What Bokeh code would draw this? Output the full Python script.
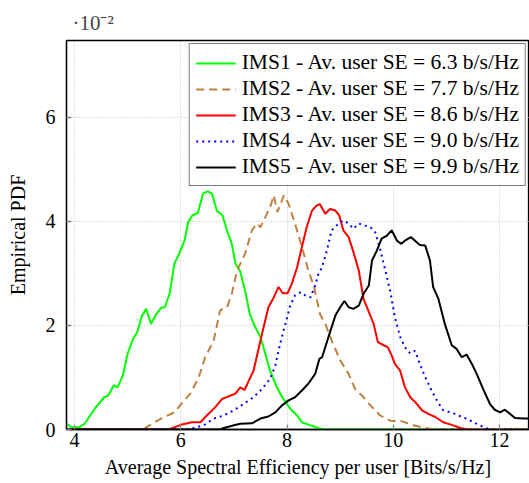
from bokeh.plotting import figure
from bokeh.models import Range1d, FixedTicker, Legend
from bokeh.embed import file_html
from bokeh.resources import INLINE

# ---- data (PDF values in units of 1e-2) ----
ims1_x = [3.85, 3.94, 4.09, 4.19, 4.38, 4.56, 4.63, 4.74, 4.81, 4.91, 5.0, 5.10, 5.18, 5.27, 5.35, 5.44,
          5.54, 5.63, 5.70, 5.79, 5.88, 5.97, 6.07, 6.14, 6.22, 6.32, 6.42, 6.51, 6.59, 6.68, 6.78, 6.87,
          6.96, 7.03, 7.12, 7.21, 7.30, 7.40, 7.50, 7.59, 7.68, 7.78, 7.87, 7.97, 8.06, 8.19, 8.28, 8.44,
          8.59, 8.70, 12.6]
ims1_y = [0.11, 0.045, 0.045, 0.11, 0.40, 0.62, 0.65, 0.85, 0.81, 1.04, 1.46, 1.74, 1.87, 2.19, 2.32, 2.03,
          2.22, 2.34, 2.35, 2.61, 3.19, 3.38, 3.63, 3.99, 4.12, 4.16, 4.54, 4.58, 4.53, 4.20, 4.13, 3.83,
          3.57, 3.19, 3.04, 2.67, 2.22, 1.97, 1.78, 1.46, 1.13, 0.88, 0.69, 0.53, 0.40, 0.27, 0.14, 0.08,
          0.03, 0.0, 0.0]

ims2_x = [3.85, 5.30, 5.38, 5.63, 5.88, 6.04, 6.18, 6.34, 6.46, 6.62, 6.74, 6.87, 6.96, 7.06, 7.21, 7.34,
          7.43, 7.50, 7.59, 7.68, 7.75, 7.82, 7.94, 8.03, 8.15, 8.28, 8.40, 8.51, 8.62, 8.72, 8.84, 9.0,
          9.16, 9.28, 9.44, 9.60, 9.75, 9.94, 10.16, 10.38, 10.60, 10.75, 12.6]
ims2_y = [0.0, 0.0, 0.06, 0.21, 0.33, 0.53, 0.69, 1.01, 1.39, 1.71, 2.29, 2.35, 2.61, 3.06, 3.38, 3.83,
          3.96, 3.89, 4.08, 4.27, 4.50, 4.18, 4.50, 4.34, 3.96, 3.51, 3.06, 2.74, 2.22, 2.03, 1.71, 1.33,
          1.07, 0.78, 0.62, 0.43, 0.27, 0.17, 0.16, 0.08, 0.03, 0.0, 0.0]

ims3_x = [3.85, 5.77, 5.85, 6.0, 6.21, 6.37, 6.49, 6.65, 6.78, 6.93, 7.03, 7.12, 7.20, 7.28, 7.37, 7.47,
          7.56, 7.65, 7.75, 7.84, 7.92, 8.01, 8.09, 8.19, 8.28, 8.37, 8.47, 8.56, 8.62, 8.72, 8.81, 8.91,
          8.98, 9.06, 9.16, 9.25, 9.35, 9.44, 9.54, 9.63, 9.71, 9.82, 9.90, 9.97, 10.03, 10.13, 10.22,
          10.32, 10.41, 10.54, 10.66, 10.79, 10.94, 11.13, 11.26, 11.40, 12.6]
ims3_y = [0.0, 0.0, 0.03, 0.09, 0.14, 0.14, 0.27, 0.43, 0.59, 0.65, 0.69, 0.81, 0.76, 0.94, 1.13, 1.58,
          1.97, 2.35, 2.54, 2.74, 2.62, 2.62, 2.80, 3.12, 3.51, 3.89, 4.21, 4.31, 4.33, 4.15, 4.24, 4.21,
          4.12, 3.83, 3.70, 3.41, 3.06, 2.51, 2.26, 2.03, 1.68, 1.62, 1.58, 1.42, 1.26, 1.13, 0.81,
          0.62, 0.53, 0.37, 0.30, 0.24, 0.14, 0.08, 0.03, 0.0, 0.0]

ims4_x = [3.85, 6.09, 6.24, 6.43, 6.62, 6.81, 7.0, 7.18, 7.37, 7.53, 7.68, 7.78, 7.87, 7.97, 8.06, 8.15,
          8.26, 8.34, 8.44, 8.53, 8.59, 8.66, 8.75, 8.84, 8.97, 9.06, 9.16, 9.25, 9.35, 9.47, 9.57, 9.66,
          9.75, 9.85, 9.94, 10.03, 10.13, 10.22, 10.32, 10.41, 10.50, 10.60, 10.72, 10.82, 10.94, 11.07,
          11.16, 11.29, 11.38, 11.51, 11.63, 11.73, 11.85, 12.6]
ims4_y = [0.0, 0.0, 0.03, 0.08, 0.21, 0.27, 0.37, 0.49, 0.62, 0.78, 0.97, 1.23, 1.65, 2.03, 2.38, 2.58,
          2.64, 2.58, 2.54, 2.77, 2.99, 3.12, 3.44, 3.83, 3.96, 4.02, 3.96, 3.86, 3.96, 3.92, 3.89, 3.79,
          3.48, 3.06, 2.67, 2.16, 1.78, 1.58, 1.46, 1.51, 1.26, 1.01, 0.75, 0.56, 0.37, 0.33,
          0.30, 0.24, 0.21, 0.14, 0.08, 0.03, 0.0, 0.0]

ims5_x = [3.85, 6.74, 6.81, 7.0, 7.12, 7.34, 7.50, 7.65, 7.78, 7.90, 8.03, 8.15, 8.28, 8.40, 8.53, 8.61,
          8.66, 8.78, 8.91, 9.0, 9.08, 9.16, 9.25, 9.35, 9.44, 9.54, 9.60, 9.69, 9.78, 9.88, 9.97, 10.07,
          10.15, 10.22, 10.33, 10.41, 10.50, 10.60, 10.69, 10.75, 10.85, 10.97, 11.10, 11.19, 11.29,
          11.38, 11.48, 11.57, 11.69, 11.82, 11.91, 12.01, 12.10, 12.20, 12.29, 12.45, 12.6]
ims5_y = [0.0, 0.0, 0.03, 0.08, 0.11, 0.12, 0.21, 0.25, 0.33, 0.46, 0.56, 0.62, 0.75, 0.88, 1.07, 1.36,
          1.39, 1.78, 2.19, 2.35, 2.47, 2.35, 2.32, 2.38, 2.61, 2.77, 3.25, 3.44, 3.67, 3.73, 3.83, 3.63,
          3.57, 3.63, 3.70, 3.63, 3.55, 3.54, 3.25, 2.74, 2.51, 2.03, 1.62, 1.55, 1.39,
          1.44, 1.26, 1.07, 0.78, 0.49, 0.38, 0.33, 0.38, 0.30, 0.22, 0.21, 0.21]

labels = ["IMS1 - Av. user SE = 6.3 b/s/Hz",
          "IMS2 - Av. user SE = 7.7 b/s/Hz",
          "IMS3 - Av. user SE = 8.6 b/s/Hz",
          "IMS4 - Av. user SE = 9.0 b/s/Hz",
          "IMS5 - Av. user SE = 9.9 b/s/Hz"]
x_ticks = [4, 6, 8, 10, 12]
y_ticks = [0, 2, 4, 6]
exponent_text = "·10⁻²"

FONT = "Liberation Serif"
FS = "20px"

p = figure(width=529, height=483, output_backend="svg", toolbar_location=None,
           x_range=Range1d(3.849, 12.564), y_range=Range1d(0, 7.48),
           min_border_left=66, min_border_top=40, min_border_bottom=54, min_border_right=0,
           title=exponent_text)
p.title.text_font = FONT
p.title.text_font_size = "21px"
p.title.text_font_style = "normal"
p.title.align = "left"
p.title.offset = 6
p.title.standoff = 11
p.outline_line_color = "black"
p.outline_line_width = 1.3

for ax in (p.xaxis[0], p.yaxis[0]):
    ax.major_tick_in = 5
    ax.major_tick_out = 0
    ax.minor_tick_in = 0
    ax.minor_tick_out = 0
    ax.major_tick_line_color = "#888888"
    ax.major_tick_line_width = 1.3
    ax.axis_line_color = "black"
    ax.axis_line_width = 1.3
    ax.major_label_text_font = FONT
    ax.major_label_text_font_size = FS
    ax.major_label_text_color = "black"
    ax.axis_label_text_font = FONT
    ax.axis_label_text_font_size = FS
    ax.axis_label_text_font_style = "normal"
    ax.axis_label_text_color = "black"

p.xaxis.ticker = FixedTicker(ticks=x_ticks)
p.yaxis.ticker = FixedTicker(ticks=y_ticks)
p.xaxis.axis_label = "Average Spectral Efficiency per user [Bits/s/Hz]"
p.yaxis.axis_label = "Empirical PDF"
p.xaxis.major_label_standoff = 3
p.xaxis.axis_label_standoff = 6
p.yaxis.major_label_standoff = 11
p.yaxis.axis_label_standoff = 14

for g in (p.xgrid[0], p.ygrid[0]):
    g.grid_line_color = "#c0c0c0"
    g.grid_line_dash = "1 2"
    g.grid_line_width = 1
p.xgrid.ticker = FixedTicker(ticks=x_ticks)
p.ygrid.ticker = FixedTicker(ticks=y_ticks)

r1 = p.line(ims1_x, ims1_y, line_color="#00ff00", line_width=2)
r2 = p.line(ims2_x, ims2_y, line_color="#bf8040", line_width=2, line_dash="8 5")
r3 = p.line(ims3_x, ims3_y, line_color="#ff0000", line_width=2)
r4 = p.line(ims4_x, ims4_y, line_color="#0000ff", line_width=2, line_dash="2 4")
r5 = p.line(ims5_x, ims5_y, line_color="#000000", line_width=2)

legend = Legend(items=[(labels[0], [r1]), (labels[1], [r2]), (labels[2], [r3]),
                       (labels[3], [r4]), (labels[4], [r5])],
                location="top_right", margin=3, padding=6, spacing=1,
                label_height=20, glyph_height=20, glyph_width=40, label_standoff=6,
                label_text_font=FONT, label_text_font_size="21.5px", label_text_color="black",
                border_line_color="black", border_line_width=1.2, background_fill_alpha=1)
p.add_layout(legend)

open("out.html", "w").write(file_html(p, INLINE))
